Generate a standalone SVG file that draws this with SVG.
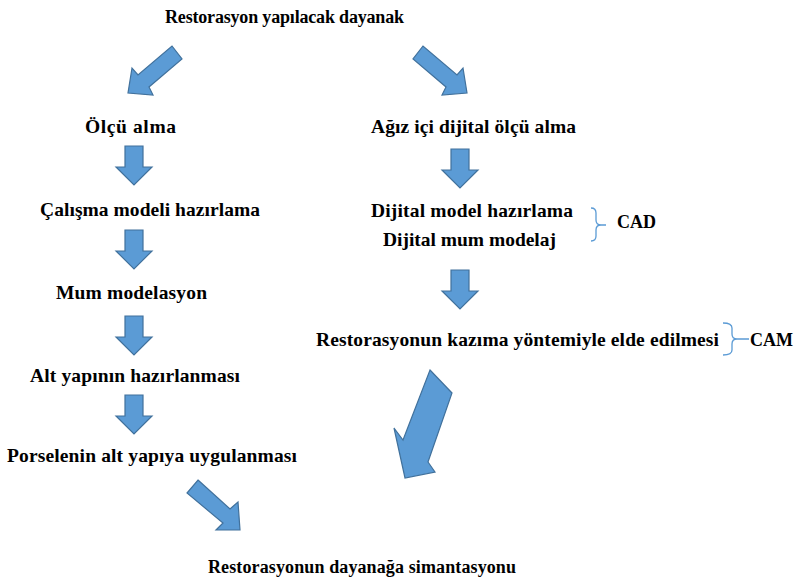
<svg xmlns="http://www.w3.org/2000/svg" width="801" height="581" viewBox="0 0 801 581">
<style>
text{font-family:"Liberation Serif","Times New Roman",serif;font-weight:bold;font-size:18px;fill:#000}
text.m{font-size:19.5px}
.arr{fill:#5B9BD5;stroke:#41719C;stroke-width:1.2;stroke-linejoin:miter}
.brace{fill:none;stroke:#5B9BD5;stroke-width:1.3}
</style>
<defs>
<path id="down" d="M-9,0 H9 V21 H18 L0,39 L-18,21 H-9 Z"/>
</defs>
<rect width="801" height="581" fill="#fff"/>
<g id="connectors">
<polygon class="arr" points="172,46 182,59 149,87 153,95 128,93 132,68 138,75"/>
<polygon class="arr" points="423,46 413,59 446,87 442,95 467,93 463,68 457,75"/>
<use href="#down" class="arr" x="134" y="146"/>
<use href="#down" class="arr" x="134" y="230"/>
<use href="#down" class="arr" x="134" y="316"/>
<use href="#down" class="arr" x="134" y="395"/>
<use href="#down" class="arr" x="460" y="149"/>
<use href="#down" class="arr" x="460" y="270"/>
<polygon class="arr" points="430,370 452,393 428,462 435,472 405,478 394,428 403,440"/>
<polygon class="arr" points="198,480 230,509 238,502 240,530 216,530 223,523 187,493"/>
</g>
<g id="n-dayanak"><text x="165" y="23" textLength="239" lengthAdjust="spacing">Restorasyon yapılacak dayanak</text></g>
<g id="n-olcu"><text class="m" x="85" y="133" textLength="91" lengthAdjust="spacing">Ölçü alma</text></g>
<g id="n-agiz"><text class="m" x="371" y="133" textLength="205" lengthAdjust="spacing">Ağız içi dijital ölçü alma</text></g>
<g id="n-calisma"><text class="m" x="40" y="216" textLength="220" lengthAdjust="spacing">Çalışma modeli hazırlama</text></g>
<g id="n-dijital"><text class="m" x="371" y="217" textLength="202" lengthAdjust="spacing">Dijital model hazırlama</text><text class="m" x="383" y="246" textLength="173" lengthAdjust="spacing">Dijital mum modelaj</text></g>
<g id="n-cad"><path class="brace" d="M591,208 Q596,208 596,213 V220 Q596,225 601,225 H606 M601,225 Q596,225 596,230 V236 Q596,241 591,241"/><text x="617" y="228">CAD</text></g>
<g id="n-mum"><text class="m" x="56" y="299" textLength="151" lengthAdjust="spacing">Mum modelasyon</text></g>
<g id="n-kazima"><text class="m" x="316" y="346" textLength="403" lengthAdjust="spacing">Restorasyonun kazıma yöntemiyle elde edilmesi</text></g>
<g id="n-cam"><path class="brace" d="M723,323 Q732,323 732,328 V334 Q732,339 737,339 H749 M737,339 Q732,339 732,344 V350 Q732,355 723,355"/><text x="750" y="346">CAM</text></g>
<g id="n-altyapi"><text class="m" x="30" y="382" textLength="210" lengthAdjust="spacing">Alt yapının hazırlanması</text></g>
<g id="n-porselen"><text class="m" x="7" y="462" textLength="290" lengthAdjust="spacing">Porselenin alt yapıya uygulanması</text></g>
<g id="n-simantasyon"><text x="208" y="573" textLength="308" lengthAdjust="spacing">Restorasyonun dayanağa simantasyonu</text></g>
</svg>
